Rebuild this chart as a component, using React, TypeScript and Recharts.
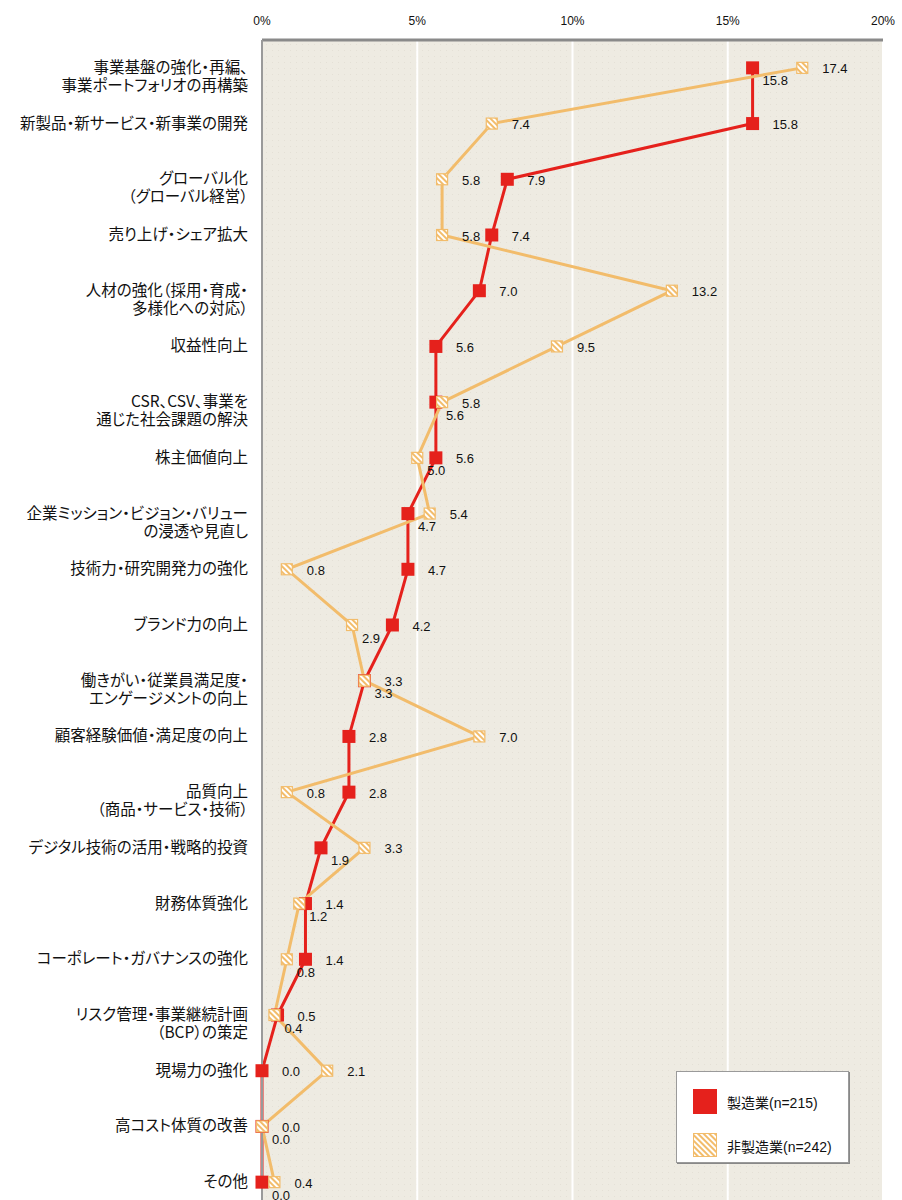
import React from 'react';
import { LineChart, Line, XAxis, YAxis, CartesianGrid, Legend } from 'recharts';

const categories: string[] = [
  '事業基盤の強化・再編、\n事業ポートフォリオの再構築',
  '新製品・新サービス・新事業の開発',
  'グローバル化\n（グローバル経営）',
  '売り上げ・シェア拡大',
  '人材の強化（採用・育成・\n多様化への対応）',
  '収益性向上',
  'CSR、CSV、事業を\n通じた社会課題の解決',
  '株主価値向上',
  '企業ミッション・ビジョン・バリュー\nの浸透や見直し',
  '技術力・研究開発力の強化',
  'ブランド力の向上',
  '働きがい・従業員満足度・\nエンゲージメントの向上',
  '顧客経験価値・満足度の向上',
  '品質向上\n（商品・サービス・技術）',
  'デジタル技術の活用・戦略的投資',
  '財務体質強化',
  'コーポレート・ガバナンスの強化',
  'リスク管理・事業継続計画\n（BCP）の策定',
  '現場力の強化',
  '高コスト体質の改善',
  'その他',
];

const manufacturing: number[] = [15.8, 15.8, 7.9, 7.4, 7.0, 5.6, 5.6, 5.6, 4.7, 4.7, 4.2, 3.3, 2.8, 2.8, 1.9, 1.4, 1.4, 0.5, 0.0, 0.0, 0.0];
const nonManufacturing: number[] = [17.4, 7.4, 5.8, 5.8, 13.2, 9.5, 5.8, 5.0, 5.4, 0.8, 2.9, 3.3, 7.0, 0.8, 3.3, 1.2, 0.8, 0.4, 2.1, 0.0, 0.4];

const seriesNames = ['製造業(n=215)', '非製造業(n=242)'];
const xTicks = [0, 5, 10, 15, 20];

const RED = '#E5211C';
const ORANGE = '#F2BC6B';
const FONT = "'Liberation Sans', 'Noto Sans CJK JP', sans-serif";
const JFONT = "'Noto Sans CJK JP', sans-serif";

const data = categories.map((name, i) => ({
  name,
  mfg: manufacturing[i],
  non: nonManufacturing[i],
}));

function labelBelow(v: number, o: number, isOrange: boolean): boolean {
  if (v > o) return false;
  if (v === o) return isOrange;
  const txt = v.toFixed(1);
  const thr = txt.length >= 4 ? 1.7 : 1.5;
  return o - v < thr - 1e-9;
}

const makeDot = (key: 'mfg' | 'non', isOrange: boolean) => (p: any) => {
  const { cx, cy, index, payload } = p;
  if (cx == null || cy == null) return <g key={`${key}-${index}`} />;
  const v: number = payload[key];
  const o: number = payload[isOrange ? 'mfg' : 'non'];
  const below = labelBelow(v, o, isOrange);
  const tx = below ? cx + 10 : cx + 20;
  const ty = below ? cy + 13 : cy + 1;
  return (
    <g key={`${key}-${index}`}>
      {isOrange ? (
        <rect x={cx - 5.5} y={cy - 5.5} width={11} height={11} fill="url(#hatch)" stroke={ORANGE} strokeWidth={1.2} />
      ) : (
        <rect x={cx - 6.5} y={cy - 6.5} width={13} height={13} fill={RED} />
      )}
      <text x={tx} y={ty} dy="0.35em" fontSize={13} fill="#111" fontFamily={FONT}>
        {v.toFixed(1)}
      </text>
    </g>
  );
};

const CatTick = (props: any) => {
  const { x, y, payload } = props;
  const lines = String(payload.value).split('\n');
  return (
    <text
      x={x}
      y={y}
      textAnchor="end"
      fontSize={15.5}
      fill="#111"
      fontFamily={JFONT}
      style={{ fontFeatureSettings: '"palt"' }}
    >
      {lines.map((l, i) => (
        <tspan key={i} x={x} dy={i === 0 ? 5 : 18}>
          {l}
        </tspan>
      ))}
    </text>
  );
};

const LegendBox = () => (
  <div
    style={{
      width: 173,
      height: 92,
      boxSizing: 'border-box',
      background: '#fff',
      border: '1px solid #9a9a9a',
      boxShadow: '1px 1px 0 #888',
      paddingLeft: 16,
      paddingTop: 17,
      fontFamily: FONT,
      fontSize: 14,
      color: '#111',
    }}
  >
    <div style={{ display: 'flex', alignItems: 'center', height: 25 }}>
      <svg width={25} height={25} style={{ display: 'block' }}>
        <rect x={0} y={0} width={24} height={25} fill={RED} />
      </svg>
      <span style={{ marginLeft: 9 }}>{seriesNames[0]}</span>
    </div>
    <div style={{ display: 'flex', alignItems: 'center', height: 25, marginTop: 19 }}>
      <svg width={25} height={25} style={{ display: 'block' }}>
        <rect x={0.5} y={0.5} width={23} height={23} fill="url(#hatch)" stroke={ORANGE} strokeWidth={1} />
      </svg>
      <span style={{ marginLeft: 9 }}>{seriesNames[1]}</span>
    </div>
  </div>
);

export default function App() {
  return (
    <div
      style={{
        position: 'absolute',
        left: 0,
        top: 0,
        width: 902,
        height: 1200,
        overflow: 'hidden',
        background: '#fff',
      }}
    >
      <LineChart
        width={902}
        height={1210}
        data={data}
        layout="vertical"
        margin={{ top: 0, right: 19, bottom: 0, left: 0 }}
        style={{ fontFamily: FONT }}
      >
        <defs>
          <pattern id="hatch" patternUnits="userSpaceOnUse" width={4} height={4} patternTransform="rotate(-45)">
            <rect width={4} height={4} fill={ORANGE} />
            <rect width={2} height={4} fill="#fff" />
          </pattern>
          <pattern id="bgDots" patternUnits="userSpaceOnUse" width={6} height={6}>
            <rect width={6} height={6} fill="#EEEBE2" />
            <rect x={2} y={2} width={1} height={1} fill="#E4E0D6" />
          </pattern>
        </defs>
        <CartesianGrid horizontal={false} vertical={true} stroke="#fff" strokeWidth={2} fill="url(#bgDots)" />
        <XAxis
          type="number"
          orientation="top"
          domain={[0, 20]}
          ticks={xTicks}
          tickFormatter={(v: number) => `${v}%`}
          height={40}
          axisLine={{ stroke: '#8a8a8a', strokeWidth: 3 }}
          tickLine={false}
          tickSize={5}
          tickMargin={10}
          tick={{ fontSize: 12, fill: '#111', fontFamily: FONT }}
          interval={0}
        />
        <YAxis
          type="category"
          dataKey="name"
          scale="band"
          width={262}
          interval={0}
          axisLine={{ stroke: '#9a9a9a', strokeWidth: 2 }}
          tickLine={false}
          tickSize={6}
          tickMargin={8}
          tick={<CatTick />}
        />
        <Line
          dataKey="mfg"
          name={seriesNames[0]}
          stroke={RED}
          strokeWidth={3}
          isAnimationActive={false}
          dot={makeDot('mfg', false)}
          activeDot={false}
        />
        <Line
          dataKey="non"
          name={seriesNames[1]}
          stroke={ORANGE}
          strokeWidth={3}
          isAnimationActive={false}
          dot={makeDot('non', true)}
          activeDot={false}
        />
        <Legend
          layout="vertical"
          align="center"
          verticalAlign="middle"
          wrapperStyle={{ position: 'absolute', left: 676, top: 1071, width: 173, height: 92 }}
          content={() => <LegendBox />}
        />
      </LineChart>
    </div>
  );
}
